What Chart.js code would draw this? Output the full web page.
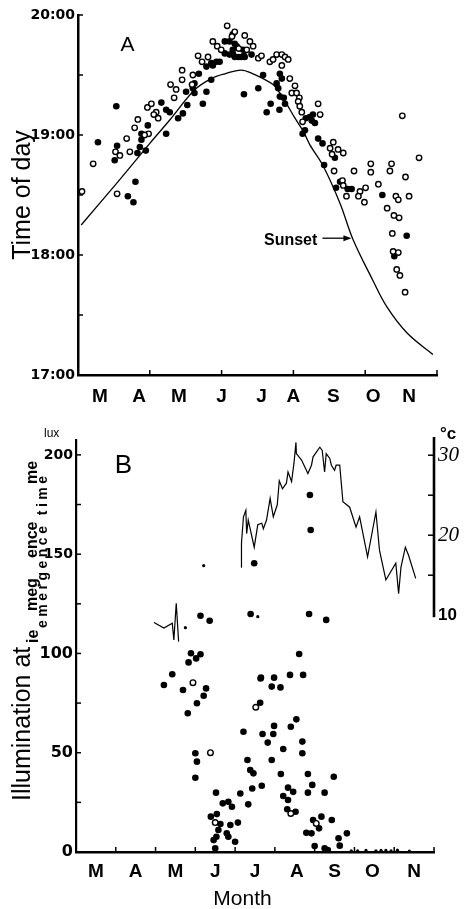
<!DOCTYPE html>
<html><head><meta charset="utf-8">
<script src="https://cdn.jsdelivr.net/npm/chart.js@4.4.1/dist/chart.umd.min.js"></script>
<style>
html,body{margin:0;padding:0;background:#fff;}
#wrap{position:relative;width:465px;height:909px;overflow:hidden;background:#fff;}
canvas{position:absolute;left:0;}
#cA{top:0;width:465px;height:420px;}
#cB{top:420px;width:465px;height:489px;}
</style></head><body>
<div id="wrap"><canvas id="cA" width="465" height="420"></canvas><canvas id="cB" width="465" height="489"></canvas></div>
<script>
// ---------- DATA ----------
// x values are months counted from 1 March (0 = 1 Mar, 9 = end of November)
const monthLabels = ['M','A','M','J','J','A','S','O','N'];
const monthPosA = [0.55,1.53,2.53,3.6,4.6,5.4,6.4,7.4,8.3];
const monthPosB = [0.5,1.5,2.5,3.5,4.5,5.55,6.5,7.45,8.5];
const hourTicks = [17,18,19,20];
const hourLabels = ['17:00','18:00','19:00','20:00'];
const luxTicks = [0,50,100,150,200];
const luxLabels = ['0','50','100','150','200'];
const tempTicks = [10,20,30];
const tempLabels = ['10','20','30'];

// Panel A: sunset curve [month, hour]
const sunsetA = [[0.08,18.25],[1.0,18.61],[1.8,18.93],[2.3,19.125],[2.92,19.375],[3.34,19.47],[3.68,19.51],[4.09,19.54],[4.39,19.51],[4.64,19.47],[4.89,19.42],[5.06,19.35],[5.23,19.26],[5.44,19.14],[5.65,19.03],[5.81,18.92],[6.15,18.74],[6.57,18.43],[6.9,18.125],[7.39,17.79],[7.74,17.57],[8.25,17.35],[8.9,17.17]];
// Panel A: emergence times, open circles [month, hour]
const openA = [[3.74,19.91],[3.93,19.86],[4.18,19.83],[3.38,19.78],[3.49,19.74],[3.86,19.82],[3.59,19.71],[4.03,19.72],[3.01,19.66],[3.26,19.65],[3.11,19.61],[2.88,19.50],[2.61,19.54],[2.61,19.46],[2.86,19.42],[2.32,19.42],[2.46,19.38],[2.41,19.31],[1.74,19.23],[1.84,19.26],[1.96,19.19],[1.90,19.17],[2.01,19.14],[1.50,19.13],[1.42,19.06],[1.77,19.01],[1.67,19.00],[1.22,18.97],[0.94,18.86],[1.05,18.83],[1.30,18.86],[0.38,18.76],[0.98,18.51],[0.10,18.53],[4.31,19.78],[4.39,19.74],[4.23,19.71],[4.52,19.64],[4.60,19.66],[4.81,19.61],[4.98,19.67],[5.11,19.67],[5.19,19.65],[5.27,19.63],[4.89,19.63],[5.11,19.58],[5.31,19.47],[5.44,19.41],[5.36,19.35],[5.48,19.35],[5.55,19.31],[5.52,19.28],[5.56,19.24],[6.02,19.26],[5.61,19.19],[6.07,19.17],[5.63,19.11],[6.40,18.94],[6.32,18.89],[6.52,18.88],[6.65,18.85],[6.37,18.84],[6.42,18.70],[6.92,18.70],[7.34,18.76],[7.34,18.69],[7.86,18.76],[7.82,18.70],[8.55,18.81],[8.21,18.65],[6.63,18.62],[6.65,18.58],[6.73,18.49],[7.07,18.53],[7.03,18.49],[7.21,18.56],[7.53,18.59],[7.18,18.44],[7.97,18.49],[8.03,18.46],[8.30,18.49],[7.75,18.39],[7.92,18.33],[8.05,18.31],[7.88,18.18],[7.90,18.03],[8.03,18.02],[7.99,17.88],[8.07,17.83],[8.20,17.69],[8.13,19.16]];
// Panel A: emergence times, filled circles [month, hour]
const filledA = [[3.88,19.84],[3.68,19.78],[3.80,19.78],[3.93,19.76],[3.68,19.68],[3.80,19.67],[3.93,19.65],[4.09,19.65],[4.18,19.65],[3.88,19.71],[3.34,19.60],[3.47,19.61],[3.22,19.57],[3.38,19.58],[3.55,19.61],[3.03,19.51],[2.92,19.43],[2.88,19.39],[2.92,19.35],[2.71,19.36],[3.34,19.46],[3.22,19.36],[2.74,19.25],[3.13,19.26],[2.63,19.18],[2.51,19.14],[4.16,19.34],[2.09,19.27],[2.21,19.21],[2.30,19.19],[0.96,19.24],[1.75,19.08],[1.59,19.01],[2.21,19.01],[0.50,18.94],[1.59,18.96],[0.98,18.91],[0.92,18.79],[1.49,18.85],[1.55,18.90],[1.70,18.87],[1.44,18.61],[1.25,18.49],[1.39,18.44],[3.98,19.74],[4.14,19.71],[3.89,19.67],[4.02,19.65],[4.16,19.66],[4.35,19.67],[4.64,19.50],[5.06,19.51],[5.11,19.47],[4.52,19.39],[4.98,19.43],[5.02,19.39],[5.06,19.32],[5.16,19.31],[5.19,19.26],[4.83,19.26],[5.05,19.21],[4.73,19.19],[5.71,19.14],[5.86,19.12],[5.94,19.10],[5.81,19.15],[5.89,19.17],[5.69,19.04],[5.63,19.01],[6.02,18.97],[6.13,18.93],[6.44,18.81],[6.17,18.75],[6.57,18.61],[6.47,18.56],[6.76,18.55],[6.86,18.55],[7.63,18.50],[8.24,18.16],[7.93,17.99]];

// Panel B: illumination at emergence [month, lux]
const filledB = [[5.88,179.8],[5.90,162.2],[4.48,145.4],[4.39,119.9],[5.86,119.9],[6.29,116.9],[3.13,119],[3.36,116.5],[2.89,100.1],[3.02,97.5],[3.13,99.6],[2.83,95.5],[2.42,89.5],[5.61,99.7],[4.65,87.8],[4.98,87.8],[5.38,89.2],[5.71,89.2],[2.21,84.1],[2.69,81.6],[3.04,74.9],[3.21,78.7],[3.27,82.4],[2.81,69.9],[3.0,49.7],[3.04,45.5],[3.0,37.4],[3.52,29.9],[3.39,17.8],[3.54,19.1],[3.63,14.1],[3.58,11.1],[3.46,6.0],[3.53,7.7],[3.5,1.9],[3.69,24.5],[3.83,25.3],[3.92,22.8],[3.88,13.6],[3.79,9.4],[3.83,7.7],[4.0,5.2],[4.07,14.8],[4.13,29.5],[4.21,60.6],[4.31,46.3],[4.38,41.3],[4.46,39.6],[4.33,24.0],[4.43,32.0],[4.63,75.2],[4.64,87.4],[4.67,33.4],[4.69,59.4],[4.82,55.1],[4.92,46.3],[4.92,83.3],[4.96,59.4],[4.98,63.5],[5.14,82.9],[5.15,39.3],[5.21,51.9],[5.21,28.2],[5.33,32.4],[5.33,26.2],[5.31,21.5],[5.52,20.3],[5.4,63.1],[5.54,66.8],[5.46,30.3],[5.69,55.6],[5.69,49.7],[5.83,39.3],[5.83,29.9],[5.94,33.8],[5.79,9.7],[5.92,9.4],[5.96,16.1],[6.11,11.9],[6.17,17.8],[6.0,3.0],[6.25,1.9],[6.33,1.0],[6.25,29.9],[6.48,37.9],[6.43,16.1],[6.6,6.9],[6.63,3.2],[6.81,9.4]];
const openB = [[2.94,85.3],[3.38,50.0],[3.5,14.8],[4.52,72.9],[5.4,19.4],[6.04,14.4]];
const smallB = [[3.21,144.2],[2.75,113],[4.57,118.5],[6.92,0.6],[7.08,0.6],[7.29,0.8],[7.54,0.6],[7.67,0.8],[7.79,0.8],[7.92,0.6],[8.08,0.9],[8.38,0.5]];
// Panel B: temperature [month, degC]
const tempMay = [[1.96,9.1],[2.21,8.4],[2.42,9.0],[2.46,6.9],[2.52,11.5],[2.58,6.7]];
const tempSummer = [[4.15,16.0],[4.16,19.0],[4.21,22.3],[4.27,23.1],[4.29,20.2],[4.33,21.9],[4.48,18.5],[4.57,21.3],[4.67,21.5],[4.71,20.8],[4.79,21.9],[4.88,24.6],[4.96,22.3],[5.06,23.8],[5.11,26.8],[5.19,25.8],[5.29,26.5],[5.33,27.9],[5.42,26.7],[5.48,29.0],[5.53,31.6],[5.54,30.2],[5.67,29.4],[5.83,27.7],[5.92,28.75],[5.96,29.8],[6.13,31.0],[6.19,30.6],[6.25,27.9],[6.29,30.2],[6.38,29.6],[6.42,28.75],[6.5,28.1],[6.54,28.75],[6.63,28.75],[6.71,24.2],[6.88,23.5],[7.04,21.0],[7.13,22.3],[7.33,17.3],[7.54,22.9],[7.63,18.1],[7.79,14.4],[8.04,16.5],[8.11,12.7],[8.17,16.0],[8.28,18.5],[8.36,17.5],[8.54,14.6]];

// tick marks (inward)
const tickMarksAx = [1.8,3.6,5.4,7.2,9];
const tickMarksAy = [17.5,18,18.5,19,19.5,20];
const tickMarksBx = [1,2,3,4,5,6,7,8,9];
const tickMarksBy = [25,50,75,100,125,150,175,200];
const tickMarksBt = [15,20,25,30];

// ---------- HELPERS ----------
const pts = arr => arr.map(([x,y]) => ({x, y}));
Chart.defaults.color = '#000';
Chart.defaults.font.family = "'Liberation Sans', Arial, sans-serif";

const inTicks = {
  id: 'inTicks',
  afterDraw(chart, args, opts) {
    const ctx = chart.ctx, ca = chart.chartArea;
    ctx.save(); ctx.strokeStyle = '#000'; ctx.lineWidth = 1.5;
    (opts.list || []).forEach(t => {
      const s = chart.scales[t.scale];
      t.values.forEach(v => {
        const p = s.getPixelForValue(v);
        ctx.beginPath();
        if (s.isHorizontal()) { ctx.moveTo(p, ca.bottom); ctx.lineTo(p, ca.bottom - t.len); }
        else if (t.side === 'right') { ctx.moveTo(s.left, p); ctx.lineTo(s.left - t.len, p); }
        else { ctx.moveTo(ca.left, p); ctx.lineTo(ca.left + t.len, p); }
        ctx.stroke();
      });
    });
    ctx.restore();
  }
};

const texts = {
  id: 'texts',
  afterDraw(chart, args, opts) {
    const ctx = chart.ctx;
    (opts.items || []).forEach(it => {
      ctx.save();
      ctx.font = it.font; ctx.fillStyle = '#000';
      ctx.textAlign = it.align || 'center'; ctx.textBaseline = it.baseline || 'middle';
      if (it.spacing) { try { ctx.letterSpacing = it.spacing; } catch (e) {} }
      ctx.translate(it.x, it.y);
      if (it.rot) ctx.rotate(it.rot);
      ctx.fillText(it.text, 0, 0);
      ctx.restore();
    });
  }
};

const sunsetArrow = {
  id: 'sunsetArrow',
  afterDraw(chart) {
    const ctx = chart.ctx, xs = chart.scales.x, ys = chart.scales.y;
    const tx = xs.getPixelForValue(6.88) - 1, ty = ys.getPixelForValue(18.14);
    ctx.save(); ctx.strokeStyle = '#000'; ctx.fillStyle = '#000'; ctx.lineWidth = 1.3;
    ctx.beginPath(); ctx.moveTo(tx - 29, ty); ctx.lineTo(tx - 5, ty); ctx.stroke();
    ctx.beginPath(); ctx.moveTo(tx, ty); ctx.lineTo(tx - 8, ty - 3); ctx.lineTo(tx - 8, ty + 3); ctx.closePath(); ctx.fill();
    ctx.restore();
  }
};

const tempAxis = {
  id: 'tempAxis',
  afterDraw(chart) {
    const ctx = chart.ctx, s = chart.scales.yT, ca = chart.chartArea;
    ctx.save(); ctx.strokeStyle = '#000'; ctx.lineWidth = 2.6;
    ctx.beginPath(); ctx.moveTo(s.left, s.getPixelForValue(10) + 2); ctx.lineTo(s.left, ca.top - 3); ctx.stroke();
    ctx.restore();
  }
};

// ---------- PANEL A ----------
new Chart(document.getElementById('cA'), {
  type: 'scatter',
  data: { datasets: [
    { data: pts(openA), pointRadius: 2.7, pointBorderWidth: 1.4, pointBackgroundColor: '#fff', pointBorderColor: '#000' },
    { data: pts(filledA), pointRadius: 3.3, pointBorderWidth: 0, pointBackgroundColor: '#000', pointBorderColor: '#000' },
    { data: pts(sunsetA), showLine: true, borderColor: '#000', borderWidth: 1.3, pointRadius: 0, tension: 0.35, fill: false }
  ]},
  options: {
    responsive: false, animation: false, events: [],
    layout: { padding: { top: 15, right: 28, left: 0, bottom: 0 } },
    plugins: {
      legend: { display: false }, tooltip: { enabled: false },
      inTicks: { list: [ { scale: 'x', values: tickMarksAx, len: 5 }, { scale: 'y', values: tickMarksAy, len: 5 } ] },
      texts: { items: [
        { text: 'A', x: 127.5, y: 45, font: '21px "Liberation Sans", Arial, sans-serif' },
        { text: 'Sunset', x: 264, y: 241, align: 'left', font: 'bold 16px "Liberation Sans", Arial, sans-serif' }
      ]}
    },
    scales: {
      x: {
        type: 'linear', min: 0, max: 9,
        afterBuildTicks: s => { s.ticks = monthPosA.map(v => ({ value: v })); },
        afterFit: s => { s.height = 45; },
        ticks: { callback: (v, i) => monthLabels[i], autoSkip: false, maxRotation: 0, padding: 10, font: { size: 19, weight: 'bold' } },
        grid: { display: false, drawTicks: false },
        border: { color: '#000', width: 2.5 }
      },
      y: {
        type: 'linear', min: 17, max: 20,
        afterBuildTicks: s => { s.ticks = hourTicks.map(v => ({ value: v })); },
        afterFit: s => { s.width = 78; },
        ticks: { callback: (v) => hourLabels[hourTicks.indexOf(v)], padding: 3, font: { family: "'DejaVu Sans', sans-serif", size: 14, weight: 'bold' } },
        grid: { display: false, drawTicks: false },
        border: { color: '#000', width: 2.5 },
        title: { display: true, text: 'Time of day', font: { size: 25 }, padding: { top: 8, bottom: 0 } }
      }
    }
  },
  plugins: [inTicks, texts, sunsetArrow]
});

// ---------- PANEL B ----------
const rot = -Math.PI / 2;
new Chart(document.getElementById('cB'), {
  type: 'scatter',
  data: { datasets: [
    { data: pts(openB), pointRadius: 2.8, pointBorderWidth: 1.4, pointBackgroundColor: '#fff', pointBorderColor: '#000', yAxisID: 'y' },
    { data: pts(filledB), pointRadius: 3.3, pointBorderWidth: 0, pointBackgroundColor: '#000', yAxisID: 'y' },
    { data: pts(smallB), pointRadius: 1.6, pointBorderWidth: 0, pointBackgroundColor: '#000', yAxisID: 'y' },
    { data: pts(tempMay), showLine: true, borderColor: '#000', borderWidth: 1.2, pointRadius: 0, tension: 0, yAxisID: 'yT' },
    { data: pts(tempSummer), showLine: true, borderColor: '#000', borderWidth: 1.2, pointRadius: 0, tension: 0, yAxisID: 'yT' }
  ]},
  options: {
    responsive: false, animation: false, events: [],
    layout: { padding: { top: 20, right: 0, left: 0, bottom: 0 } },
    plugins: {
      legend: { display: false }, tooltip: { enabled: false },
      inTicks: { list: [
        { scale: 'x', values: tickMarksBx, len: 5 },
        { scale: 'y', values: tickMarksBy, len: 5 },
        { scale: 'yT', values: tickMarksBt, len: 6, side: 'right' }
      ]},
      texts: { items: [
        { text: 'B', x: 123.5, y: 46, font: '26px "Liberation Sans", Arial, sans-serif' },
        { text: 'lux', x: 44, y: 17, align: 'left', baseline: 'alphabetic', font: '12px "Liberation Sans", Arial, sans-serif' },
        { text: '°c', x: 440, y: 19, align: 'left', baseline: 'alphabetic', font: 'bold 17px "Liberation Sans", Arial, sans-serif' },
        { text: 'Month', x: 242.5, y: 479, font: '21px "Liberation Sans", Arial, sans-serif' },
        { text: 'Illumination at', x: 23, y: 381, rot: rot, align: 'left', font: '25px "Liberation Sans", Arial, sans-serif' },
        { text: 'ie', x: 34, y: 223, rot: rot, align: 'left', font: 'bold 16px "Liberation Sans", Arial, sans-serif' },
        { text: 'meg', x: 33, y: 191, rot: rot, align: 'left', font: 'bold 16px "Liberation Sans", Arial, sans-serif' },
        { text: 'ence', x: 33, y: 138, rot: rot, align: 'left', font: 'bold 16px "Liberation Sans", Arial, sans-serif' },
        { text: 'me', x: 33, y: 64, rot: rot, align: 'left', font: 'bold 16px "Liberation Sans", Arial, sans-serif' },
        { text: 'emergence time', x: 43, y: 208, rot: rot, align: 'left', spacing: '3.5px', font: 'bold 14px "Liberation Sans", Arial, sans-serif' }
      ]}
    },
    scales: {
      x: {
        type: 'linear', min: 0, max: 9,
        afterBuildTicks: s => { s.ticks = monthPosB.map(v => ({ value: v })); },
        afterFit: s => { s.height = 57; },
        ticks: { callback: (v, i) => monthLabels[i], autoSkip: false, maxRotation: 0, padding: 8, font: { size: 19, weight: 'bold' } },
        grid: { display: false, drawTicks: false },
        border: { color: '#000', width: 2.5 }
      },
      y: {
        type: 'linear', position: 'left', min: 0, max: 207.5,
        afterBuildTicks: s => { s.ticks = luxTicks.map(v => ({ value: v })); },
        afterFit: s => { s.width = 76; },
        ticks: {
          callback: (v) => luxLabels[luxTicks.indexOf(v)], padding: 3,
          font: (c) => (c.tick && c.tick.value > 100)
            ? { family: "'DejaVu Sans', sans-serif", size: 14, weight: 'bold' }
            : { family: "'DejaVu Sans', sans-serif", size: 16, weight: 'bold' }
        },
        grid: { display: false, drawTicks: false },
        border: { color: '#000', width: 2.2 }
      },
      yT: {
        type: 'linear', position: 'right', min: -19.6, max: 31.9,
        afterBuildTicks: s => { s.ticks = tempTicks.map(v => ({ value: v })); },
        afterFit: s => { s.width = 31; },
        ticks: {
          callback: (v) => tempLabels[tempTicks.indexOf(v)], padding: 4,
          font: (c) => (c.tick && c.tick.value === 10)
            ? { family: "'Liberation Sans', sans-serif", size: 17, weight: 'bold' }
            : { family: "'Liberation Serif', serif", size: 21, style: 'italic' }
        },
        grid: { display: false, drawTicks: false },
        border: { display: false }
      }
    }
  },
  plugins: [inTicks, texts, tempAxis]
});
</script>
</body></html>
